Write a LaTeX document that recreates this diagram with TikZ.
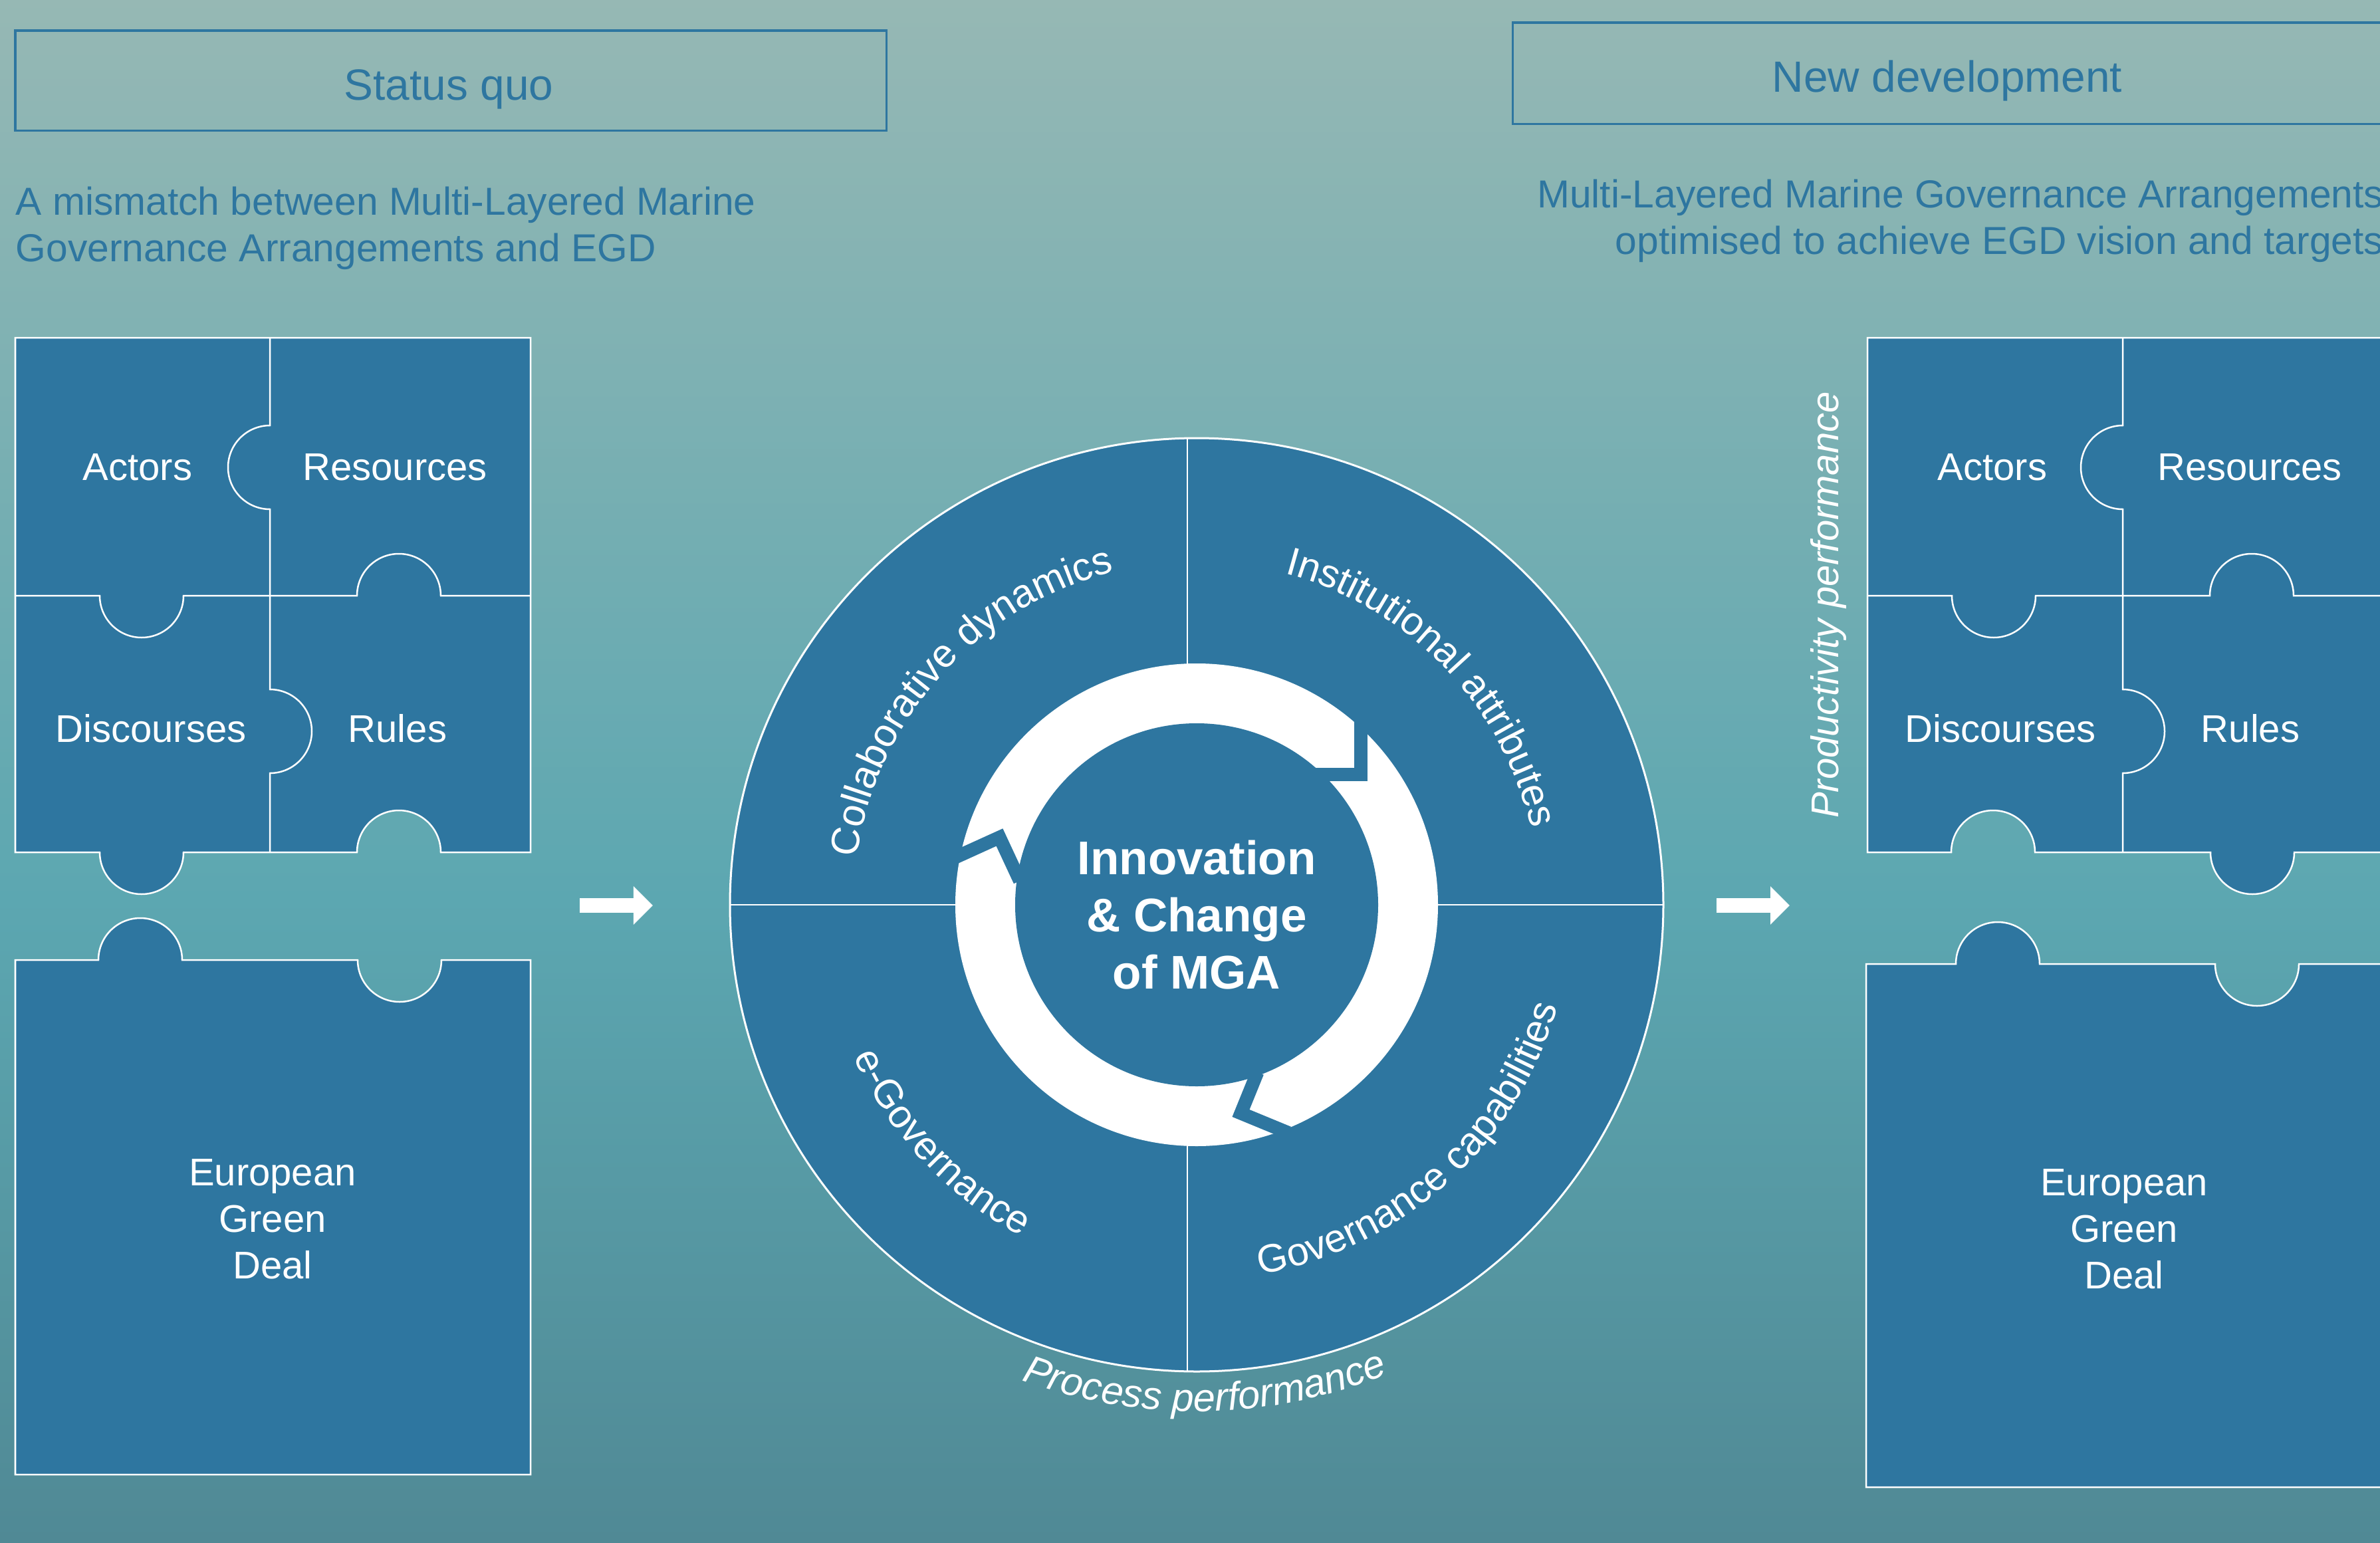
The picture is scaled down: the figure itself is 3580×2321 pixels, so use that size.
\documentclass[tikz,border=0pt]{standalone}
\usepackage{fontspec}
\setmainfont{Liberation Sans}
\usetikzlibrary{arrows.meta,decorations.text}
\definecolor{mgablue}{RGB}{46,118,160}
\definecolor{bgtop}{RGB}{150,184,180}
\definecolor{bgmid}{RGB}{92,167,177}
\definecolor{bgbot}{RGB}{80,137,149}
\newcommand{\arcfont}{\fontsize{16.9}{19}\selectfont\color{white}}
\tikzset{%
  piece/.style     = {fill=mgablue, draw=white, line width=0.025cm},%
  seam/.style      = {draw=white, line width=0.025cm},%
  piecetext/.style = {text=white, align=center, inner sep=0pt,%
                      font=\fontsize{16.5}{19.9}\selectfont},%
  headbox/.style   = {draw=mgablue, line width=0.03cm},%
  headtext/.style  = {text=mgablue, inner sep=0pt, font=\fontsize{18.7}{22}\selectfont},%
  subtext/.style   = {text=mgablue, inner sep=0pt, font=\fontsize{16.7}{19.9}\selectfont},%
  wheel/.style     = {fill=mgablue, draw=white, line width=0.03cm},%
  spoke/.style     = {draw=white, line width=0.02cm},%
  ringgap/.style   = {draw=mgablue, line width=0.2cm, line join=miter},%
  hubtext/.style   = {text=white, align=center, inner sep=0pt,%
                      font=\fontsize{20.2}{24.5}\selectfont\bfseries},%
  sidetext/.style  = {text=white, inner sep=0pt, font=\fontsize{16.5}{19.9}\selectfont\itshape},%
  flowarrow/.style = {draw=white, line width=0.22cm, -{Triangle[length=0.29cm,width=0.56cm]}},%
  arctext/.style   = {decorate, decoration={text along path, text align=center, text={#1}}}%
}
\begin{document}
\begin{tikzpicture}[x=0.01cm, y=0.01cm]%
	\useasboundingbox (0,0) rectangle (3580,-2321);
	\clip (0,0) rectangle (3580,-2321);
	\shade[top color=bgtop, bottom color=bgmid] (0,0) rectangle (3580,-1352);
	\shade[top color=bgmid, bottom color=bgbot] (0,-1350) rectangle (3580,-2321);
	% headings
	\draw[headbox] (23,-46) rectangle (1333,-196);
	\draw[headbox] (2275,-34) rectangle (3620,-186);
	\node[headtext, anchor=base] (sq) at (675,-150) {Status quo};
	\node[headtext, anchor=base] (nd) at (2929,-138) {New development};
	\node[subtext, anchor=north west, align=left] (sqsub) at (23,-280)
		{A mismatch between Multi-Layered Marine\\Governance Arrangements and EGD};
	\node[subtext, anchor=north east, align=right] (ndsub) at (3586,-269)
		{Multi-Layered Marine Governance Arrangements\\optimised to achieve EGD vision and targets};
	% status quo puzzle
	\draw[piece] (23,-508) -- (798,-508) -- (798,-1282) -- (663,-1282)
		arc[start angle=0, end angle=180, radius=63] -- (276,-1282)
		arc[start angle=0, end angle=-180, radius=63] -- (23,-1282) -- cycle;
	\draw[seam] (406,-508) -- (406,-640) arc[start angle=90, end angle=270, radius=63]
		-- (406,-1037) arc[start angle=90, end angle=-90, radius=63] -- (406,-1282);
	\draw[seam] (23,-896) -- (150,-896) arc[start angle=180, end angle=360, radius=63]
		-- (537,-896) arc[start angle=180, end angle=0, radius=63] -- (798,-896);
	\draw[piece] (23,-2218) -- (23,-1444) -- (148,-1444)
		arc[start angle=180, end angle=0, radius=63] -- (538,-1444)
		arc[start angle=180, end angle=360, radius=63] -- (798,-1444) -- (798,-2218) -- cycle;
	\node[piecetext] (la) at (207,-703) {Actors};
	\node[piecetext] (lr) at (594,-703) {Resources};
	\node[piecetext] (ld) at (227,-1096) {Discourses};
	\node[piecetext] (lu) at (598,-1096) {Rules};
	\node[piecetext] (legd) at (410,-1834) {European\\Green\\Deal};
	% new development puzzle
	\draw[piece] (2809,-508) -- (3620,-508) -- (3620,-1282) -- (3451,-1282)
		arc[start angle=0, end angle=-180, radius=63] -- (3061,-1282)
		arc[start angle=0, end angle=180, radius=63] -- (2809,-1282) -- cycle;
	\draw[seam] (3193,-508) -- (3193,-640) arc[start angle=90, end angle=270, radius=63]
		-- (3193,-1037) arc[start angle=90, end angle=-90, radius=63] -- (3193,-1282);
	\draw[seam] (2809,-896) -- (2936,-896) arc[start angle=180, end angle=360, radius=63]
		-- (3324,-896) arc[start angle=180, end angle=0, radius=63] -- (3620,-896);
	\draw[piece] (2807,-2237) -- (2807,-1450) -- (2942,-1450)
		arc[start angle=180, end angle=0, radius=63] -- (3332,-1450)
		arc[start angle=180, end angle=360, radius=63] -- (3620,-1450) -- (3620,-2237) -- cycle;
	\node[piecetext] (ra) at (2997,-703) {Actors};
	\node[piecetext] (rr) at (3384,-703) {Resources};
	\node[piecetext] (rd) at (3009,-1096) {Discourses};
	\node[piecetext] (ru) at (3385,-1096) {Rules};
	\node[piecetext] (regd) at (3195,-1849) {European\\Green\\Deal};
	\node[sidetext, rotate=90] (prod) at (2750,-910) {Productivity performance};
	% arrows
	\coordinate (la0) at (872,-1362);
	\coordinate (la1) at (982,-1362);
	\coordinate (ra0) at (2582,-1362);
	\coordinate (ra1) at (2692,-1362);
	\draw[flowarrow] (la0) -- (la1);
	\draw[flowarrow] (ra0) -- (ra1);
	% wheel
	\coordinate (c) at (1800,-1361);
	\draw[wheel] (c) circle[radius=702];
	\draw[spoke] (1786,-660) -- (1786,-2062);
	\draw[spoke] (1098,-1361) -- (2502,-1361);
	\fill[white] (c) circle[radius=363];
	\fill[mgablue] (c) circle[radius=273];
	\draw[ringgap] (1975,-1165) -- (2046.5,-1165) -- (2046.5,-1080);
	\draw[ringgap] (1435,-1290.6) -- (1503.5,-1259.5) -- (1534,-1325);
	\draw[ringgap] (1891.5,-1613) -- (1866.5,-1674.5) -- (1938,-1704);
	\node[hubtext] (hub) at (1800,-1376) {Innovation\\\& Change\\of MGA};
	\path[arctext={|\arcfont|Collaborative dynamics}] (c) ++(180:516)
		arc[start angle=180, end angle=96, radius=516];
	\path[arctext={|\arcfont|Institutional attributes}] (c) ++(86:516)
		arc[start angle=86, end angle=2, radius=516];
	\path[arctext={|\arcfont|Governance capabilities}] (c) ++(-90:564)
		arc[start angle=-90, end angle=-6, radius=564];
	\path[arctext={|\arcfont|e-Governance}] (c) ++(-179:564)
		arc[start angle=-179, end angle=-95, radius=564];
	\path[arctext={|\arcfont\itshape|Process performance}] (c) ++(-129:762)
		arc[start angle=-129, end angle=-49, radius=762];
\end{tikzpicture}
\end{document}
